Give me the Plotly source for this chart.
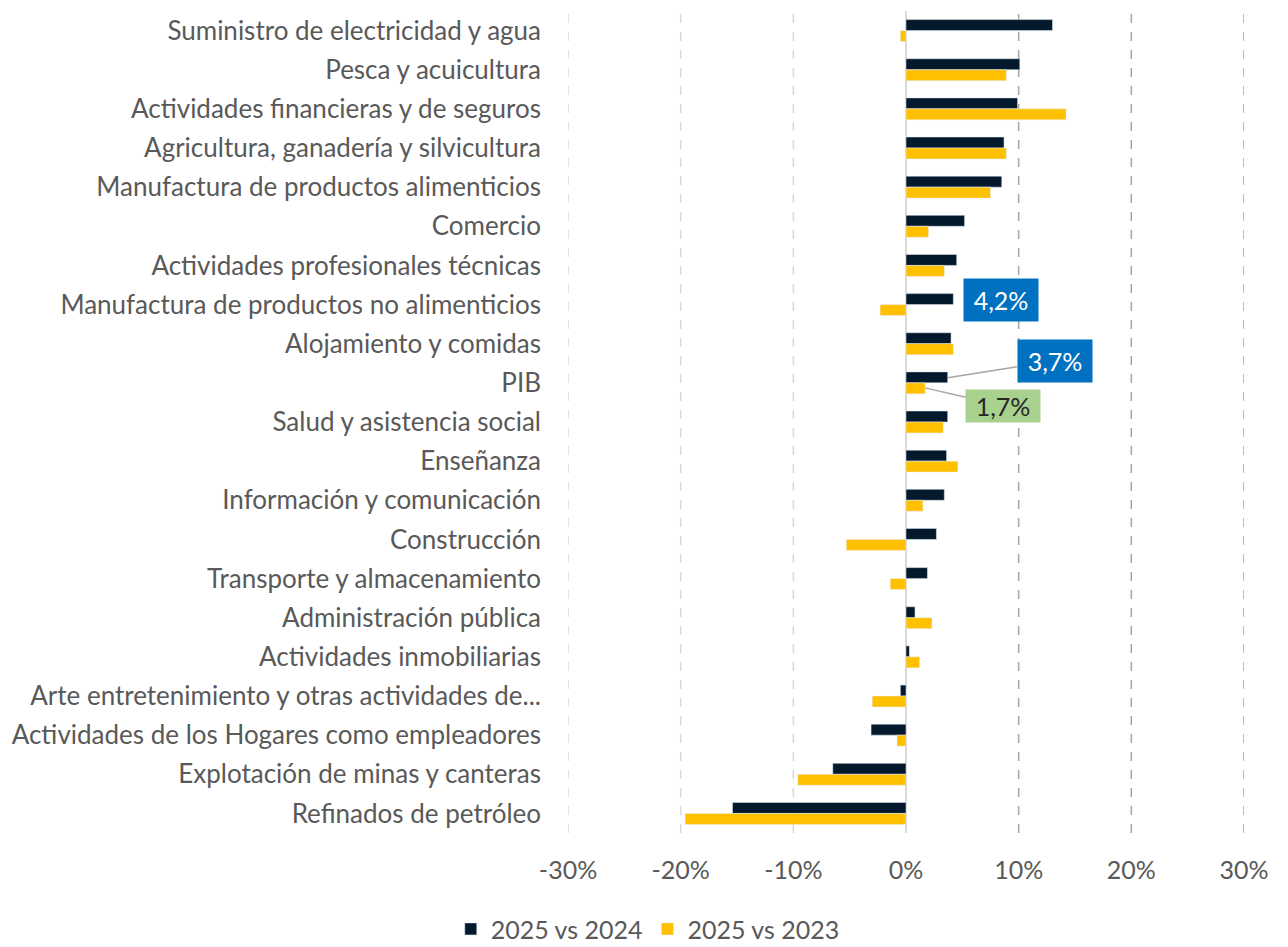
import plotly.graph_objects as go

categories = [
    "Suministro de electricidad y agua",
    "Pesca y acuicultura",
    "Actividades financieras y de seguros",
    "Agricultura, ganadería y silvicultura",
    "Manufactura de productos alimenticios",
    "Comercio",
    "Actividades profesionales técnicas",
    "Manufactura de productos no alimenticios",
    "Alojamiento y comidas",
    "PIB",
    "Salud y asistencia social",
    "Enseñanza",
    "Información y comunicación",
    "Construcción",
    "Transporte y almacenamiento",
    "Administración pública",
    "Actividades inmobiliarias",
    "Arte entretenimiento y otras actividades de...",
    "Actividades de los Hogares como empleadores",
    "Explotación de minas y canteras",
    "Refinados de petróleo",
]
vs_2024 = [13.0, 10.1, 9.9, 8.7, 8.5, 5.2, 4.5, 4.2, 4.0, 3.7, 3.7, 3.6, 3.4, 2.7, 1.9, 0.8, 0.3,
           -0.5, -3.1, -6.5, -15.4]
vs_2023 = [-0.5, 8.9, 14.2, 8.9, 7.5, 2.0, 3.4, -2.3, 4.2, 1.7, 3.3, 4.6, 1.5, -5.3, -1.4, 2.3, 1.2,
           -3.0, -0.8, -9.6, -19.6]
tick_vals = [-30, -20, -10, 0, 10, 20, 30]
tick_text = ["-30%", "-20%", "-10%", "0%", "10%", "20%", "30%"]

DARK = "#041A2C"
YELLOW = "#FFC000"
FONT = "Lato, sans-serif"
GREY = "#595959"
FS = 26

fig = go.Figure()
fig.add_trace(go.Bar(y=categories, x=vs_2024, orientation="h", name="2025 vs 2024",
                     marker=dict(color=DARK)))
fig.add_trace(go.Bar(y=categories, x=vs_2023, orientation="h", name="2025 vs 2023",
                     marker=dict(color=YELLOW)))

# grid lines
for v in tick_vals:
    if v == 0:
        fig.add_shape(type="line", xref="x", yref="paper", x0=v, x1=v, y0=0, y1=1,
                      line=dict(color="#D9D9D9", width=2), layer="below")
    else:
        col = "#A6A6A6" if v > 0 else "#D9D9D9"
        fig.add_shape(type="line", xref="x", yref="paper", x0=v, x1=v, y0=0, y1=1,
                      line=dict(color=col, width=1.5, dash="dash"), layer="below")

# callouts
pib_i = categories.index("PIB")
manu_i = categories.index("Manufactura de productos no alimenticios")
fig.add_annotation(x=vs_2024[manu_i], y=categories[manu_i], yshift=5, xshift=48,
                   text="4,2%", showarrow=False, width=74, height=42, borderpad=0,
                   font=dict(family=FONT, size=25, color="white"),
                   bgcolor="#0070C0")
fig.add_annotation(x=vs_2024[pib_i], y=categories[pib_i], yshift=5,
                   ax=107, ay=-17, text="3,7%", showarrow=True, arrowhead=0,
                   arrowcolor="#A6A6A6", arrowwidth=1.5, width=74, height=42, borderpad=0,
                   font=dict(family=FONT, size=25, color="white"),
                   bgcolor="#0070C0")
fig.add_annotation(x=vs_2023[pib_i], y=categories[pib_i], yshift=-5,
                   ax=78, ay=18, text="1,7%", showarrow=True, arrowhead=0,
                   arrowcolor="#A6A6A6", arrowwidth=1.5, width=74, height=32, borderpad=0,
                   font=dict(family=FONT, size=25, color="#262626"),
                   bgcolor="#A9D18E")

fig.update_layout(
    width=1288, height=947,
    margin=dict(l=560, r=52, t=3, b=116),
    plot_bgcolor="white", paper_bgcolor="white",
    barmode="group", bargap=0.44, bargroupgap=0,
    font=dict(family=FONT, size=FS, color=GREY),
    xaxis=dict(range=[-30, 30], tickvals=tick_vals, ticktext=tick_text, showgrid=False,
               zeroline=False, showline=False, ticks="", ticklabelstandoff=20,
               tickfont=dict(size=25, color=GREY), automargin=False),
    yaxis=dict(categoryorder="array", categoryarray=categories, autorange="reversed",
               showgrid=False, zeroline=False, ticks="", ticklabelstandoff=26,
               tickfont=dict(size=FS, color=GREY), automargin=False),
    legend=dict(orientation="h", x=0.118, xanchor="center", y=-0.117, yanchor="middle",
                font=dict(size=25, color=GREY), itemwidth=30, traceorder="normal"),
    showlegend=True,
)

fig.write_html("out.html")
